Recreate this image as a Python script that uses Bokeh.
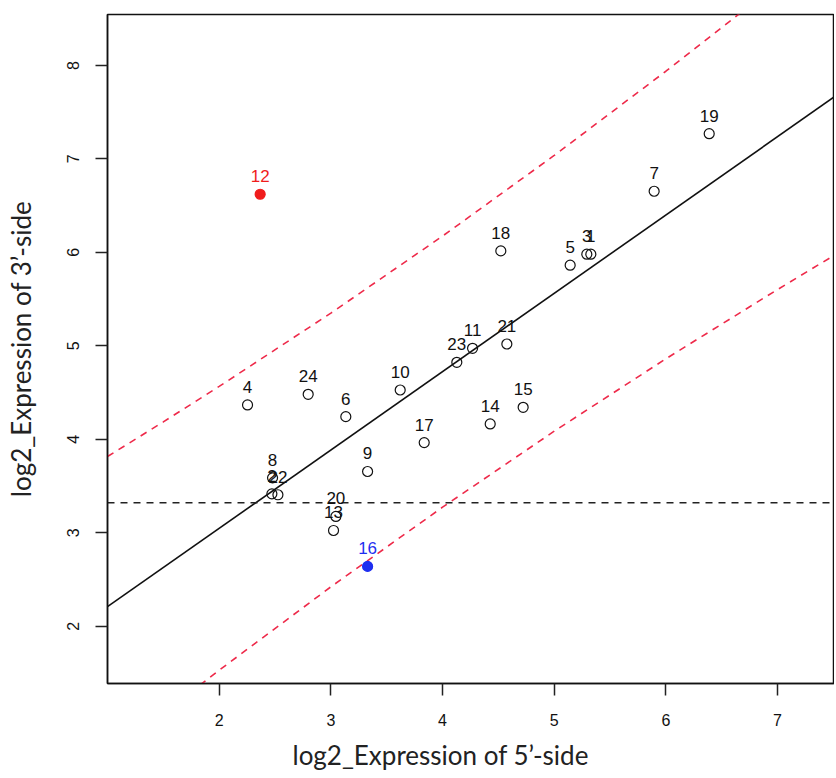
from bokeh.plotting import figure
from bokeh.models import Range1d, ColumnDataSource, FixedTicker, Title
from bokeh.core.properties import value
from bokeh.embed import file_html
from bokeh.resources import INLINE

# ---- data ----
ids = [str(i) for i in range(1, 25)]
x5 = [5.328, 2.472, 5.292, 2.254, 5.143, 3.134, 5.895, 2.478, 3.329, 3.621, 4.269, 2.367,
      3.024, 4.427, 4.722, 3.329, 3.836, 4.522, 6.388, 3.045, 4.576, 2.526, 4.128, 2.797]
y3 = [5.981, 3.417, 5.981, 4.368, 5.863, 4.243, 6.654, 3.588, 3.656, 4.528, 4.974, 6.622,
      3.025, 4.165, 4.343, 2.641, 3.965, 6.016, 7.270, 3.175, 5.020, 3.407, 4.824, 4.482]
highlight = {"12": "#f01c1c", "16": "#1f2ff0"}

fit_x = [1.0, 7.53]
fit_y = [2.21, 7.682]

band_x = [1.0, 1.5, 2.0, 3.0, 4.0, 5.0, 6.0, 7.0, 7.53]
band_upper = [3.816, 4.187, 4.566, 5.350, 6.174, 7.037, 7.938, 8.873, 9.379]
band_lower = [0.604, 1.071, 1.530, 2.422, 3.274, 4.087, 4.862, 5.603, 5.985]

threshold_y = 3.321

x_ticks = [2, 3, 4, 5, 6, 7]
y_ticks = [2, 3, 4, 5, 6, 7, 8]

x_title = "log2_Expression of 5\u2019-side"
y_title = "log2_Expression of 3\u2019-side"

# ---- figure ----
p = figure(width=834, height=778,
           x_range=Range1d(1.0, 7.51), y_range=Range1d(1.388, 8.545),
           output_backend="svg", toolbar_location=None,
           min_border_left=107, min_border_top=14, min_border_bottom=94, min_border_right=0)
p.grid.visible = False
p.background_fill_color = "white"
p.border_fill_color = "white"
p.outline_line_color = "#111111"
p.outline_line_width = 1.5
p.outline_line_alpha = 1.0

for ax in (p.xaxis[0], p.yaxis[0]):
    ax.minor_tick_line_color = None
    ax.major_tick_in = 0
    ax.major_tick_out = 12
    ax.major_tick_line_width = 1.5
    ax.major_tick_line_color = "#222222"
    ax.axis_line_color = "#111111"
    ax.axis_line_width = 1.5
    ax.major_label_text_font = "Liberation Sans"
    ax.major_label_text_font_size = "16px"
    ax.major_label_text_color = "#111111"
    ax.axis_label_text_font = "Lato"
    ax.axis_label_text_font_size = "26px"
    ax.axis_label_text_font_style = "normal"
    ax.axis_label_text_color = "#222222"

p.xaxis.ticker = FixedTicker(ticks=x_ticks)
p.yaxis.ticker = FixedTicker(ticks=y_ticks)
p.xaxis.major_label_standoff = 18
p.yaxis.major_label_standoff = 16
p.yaxis.major_label_orientation = "parallel"
p.yaxis.axis_label = y_title
p.yaxis.axis_label_standoff = 28

# x title, placed off-centre as in the reference
p.add_layout(Title(text=x_title, align="left", offset=185, standoff=16,
                   text_font="Lato", text_font_size="26px", text_font_style="normal",
                   text_line_height=0.9, text_color="#222222"), "below")

# lines
p.line(fit_x, fit_y, line_color="#111111", line_width=1.6)
p.line(band_x, band_upper, line_color="#ee2a4a", line_width=1.6, line_dash="7 6")
p.line(band_x, band_lower, line_color="#ee2a4a", line_width=1.6, line_dash="7 6")
p.line([1.0, 7.51], [threshold_y, threshold_y], line_color="#222222", line_width=1.5, line_dash="7 6")

# points
fill = [highlight.get(i) for i in ids]
linec = [highlight.get(i, "#111111") for i in ids]
txtc = [highlight.get(i, "#111111") for i in ids]
src = ColumnDataSource(dict(x=x5, y=y3, id=ids, fill=fill, linec=linec, txtc=txtc))
p.scatter("x", "y", source=src, marker="circle", size=10, fill_color="fill",
          line_color="linec", line_width=1.2)
p.text("x", "y", text="id", source=src, text_align="center", text_baseline="middle",
       y_offset=-18, text_font=value("Liberation Sans"), text_font_size="17px",
       text_color="txtc")

open("out.html", "w").write(file_html(p, INLINE))
